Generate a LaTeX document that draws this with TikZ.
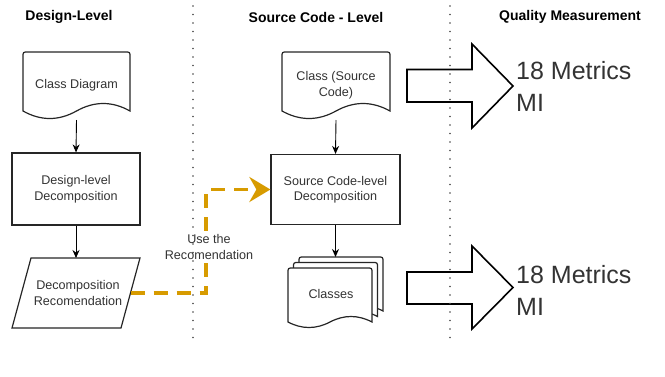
\documentclass[tikz,border=0pt]{standalone}
\usepackage{fontspec}
\setmainfont{Liberation Sans}
\usetikzlibrary{arrows.meta}
\definecolor{ink}{HTML}{333333}
\definecolor{amber}{HTML}{D79B00}
\definecolor{sepgray}{HTML}{444444}

% document shape: rounded top corners, wavy bottom edge
% #1 options, #2 left, #3 top, #4 right, #5 baseline of wave, #6 wave amplitude
\newcommand{\docshape}[6][]{%
  \draw[#1] (#2,#5) -- (#2,{#3+5}) .. controls (#2,#3) .. ({#2+5},#3)
    -- ({#4-5},#3) .. controls (#4,#3) .. (#4,{#3+5}) -- (#4,#5)
    .. controls ({#4-(#4-#2)/6},{#5-4*#6/3}) and ({#4-(#4-#2)/3},{#5-4*#6/3}) .. ({(#2+#4)/2},#5)
    .. controls ({(#2+#4)/2-(#4-#2)/6},{#5+4*#6/3}) and ({(#2+#4)/2-(#4-#2)/3},{#5+4*#6/3}) .. (#2,#5)
    -- cycle;}

\tikzset{
  outline/.style={draw=black!85, line width=1.2pt},
  lbl/.style={text=ink, align=center, font=\fontsize{12.6}{15.5}\selectfont, inner sep=0pt},
  area/.style={inner sep=0pt, outer sep=0pt},
  heading/.style={font=\bfseries\fontsize{14}{16}\selectfont, text=black, inner sep=0pt},
  flow/.style={draw=black, line width=0.9pt, -{Stealth[length=8pt,width=7pt]}},
  hint/.style={draw=amber, line width=3.6pt, dash pattern=on 14pt off 9pt,
    -{Stealth[length=21pt,width=25pt,inset=7pt]}},
  lane/.style={draw=sepgray, line width=1.7pt, line cap=round, dash pattern=on 0pt off 8.5pt},
  bigarrow/.style={draw=black, line width=1.6pt, fill=white, line join=miter},
  bigtext/.style={font=\fontsize{25}{32}\selectfont, text=black!80, align=left, inner sep=0pt, anchor=west}
}

\begin{document}
\begin{tikzpicture}[x=1pt, y=-1pt]
\useasboundingbox (0,0) rectangle (665,376);

% column headings
\node[heading] (h1) at (69,17) {Design-Level};
\node[heading] (h2) at (316,17) {Source Code - Level};
\node[heading] (h3) at (570,17) {Quality Measurement};

% ---- design level ----
\docshape[outline, fill=white]{23}{52}{130}{111}{7.5}
\node[area, minimum width=107pt, minimum height=68pt] (cdbox) at (76.5,86) {};
\node[lbl] (cd) at (76.5,85) {Class Diagram};

\node[outline, lbl, minimum width=128pt, minimum height=72pt, inner sep=0pt]
  (dld) at (76,189) {Design-level\\Decomposition};

\draw[outline, fill=white] (31,258) -- (140,258) -- (121,328) -- (12,328) -- cycle;
\node[area, minimum width=109pt, minimum height=70pt] (rec) at (76,293) {};
\node[lbl] at (78,293) {Decomposition\\Recomendation};

\draw[flow] (cdbox.south) -- (dld.north);
\draw[flow] (dld.south) -- (dld.south |- rec.north);

% ---- source code level ----
\docshape[outline, fill=white]{282}{52}{390}{111}{7.5}
\node[area, minimum width=108pt, minimum height=68pt] (csbox) at (336,86) {};
\node[lbl] (cs) at (336,85) {Class (Source\\Code)};

\node[outline, lbl, minimum width=129pt, minimum height=70pt, inner sep=0pt]
  (scd) at (335.5,189.5) {Source Code-level\\Decomposition};

\docshape[outline, fill=white]{299}{257}{383}{311}{5.5}
\docshape[outline, fill=white]{293.5}{262.5}{377.5}{316.5}{5.5}
\docshape[outline, fill=white]{288}{268}{372}{322}{5.5}
\node[area, minimum width=95pt, minimum height=70pt] (clsbox) at (335.5,292) {};
\node[lbl] (cls) at (331,294) {Classes};

\draw[flow] (csbox.south) -- (scd.north);
\draw[flow] (scd.south) -- (scd.south |- clsbox.north);

% recommendation handed over to source-code decomposition
\coordinate (turn) at (206,293);
\draw[hint] (rec.east) -- (turn) |- (scd.west);
\node[lbl, fill=white, inner sep=1pt] (use) at (209,247) {Use the\\Recomendation};

% ---- quality measurement ----
\draw[bigarrow] (407,69.5) -- (472,69.5) -- (472,44) -- (513,86) -- (472,128)
  -- (472,102) -- (407,102) -- cycle;
\node[bigtext] (m1) at (516,86) {18 Metrics\\MI};

\draw[bigarrow] (407,272) -- (472,272) -- (472,246) -- (513,287.5) -- (472,329)
  -- (472,304) -- (407,304) -- cycle;
\node[bigtext] (m2) at (516,290) {18 Metrics\\MI};

% lane separators
\draw[lane] (193,6) -- (193,342);
\draw[lane] (450,6) -- (450,342);
\end{tikzpicture}
\end{document}
